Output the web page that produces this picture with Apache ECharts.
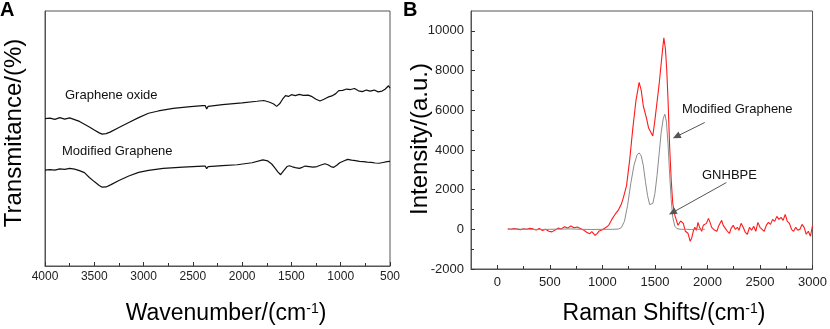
<!DOCTYPE html>
<html><head><meta charset="utf-8">
<script src="https://cdn.jsdelivr.net/npm/echarts@6/dist/echarts.min.js"></script>
<style>html,body{margin:0;padding:0;background:#fff}#c{width:830px;height:329px}</style>
</head><body><div id="c"></div>
<script>
// ---------- Panel A: FTIR (wavenumber, relative transmittance) ----------
const ftirTicks = [4000,3500,3000,2500,2000,1500,1000,500];
const ftirMinorTicks = [3750,3250,2750,2250,1750,1250,750];
const ftirGO = [[4000,57.8],[3950,58.0],[3900,57.5],[3850,58.2],[3800,57.6],[3750,58.1],[3700,57.4],[3650,56.7],[3600,55.6],[3550,54.5],[3500,53.3],[3450,52.2],[3420,51.7],[3380,51.9],[3340,52.5],[3250,54.3],[3150,56.3],[3050,58.2],[2950,59.9],[2850,60.8],[2700,61.8],[2550,62.4],[2400,62.9],[2375,62.9],[2360,61.6],[2345,62.6],[2200,63.3],[2000,64.0],[1850,64.6],[1780,64.9],[1720,64.2],[1680,63.5],[1650,62.6],[1620,63.6],[1590,65.4],[1560,66.8],[1530,66.5],[1500,67.2],[1460,66.8],[1420,67.3],[1380,66.9],[1330,67.0],[1290,66.4],[1250,65.4],[1210,64.7],[1170,65.4],[1130,66.2],[1090,66.7],[1050,67.6],[1020,68.8],[980,68.9],[940,69.4],[900,69.2],[860,69.6],[820,68.7],[780,68.4],[740,69.0],[700,68.6],[660,69.0],[620,68.3],[580,68.6],[550,69.3],[530,70.0],[515,70.7],[500,69.7]];
const ftirMG = [[4000,37.6],[3950,37.8],[3900,37.6],[3850,38.1],[3800,37.9],[3750,38.3],[3700,38.0],[3650,37.4],[3600,36.6],[3550,34.7],[3500,33.1],[3450,31.6],[3420,30.9],[3380,31.0],[3330,31.9],[3250,33.5],[3150,35.3],[3050,36.7],[2950,37.5],[2800,38.3],[2600,38.8],[2400,39.2],[2375,39.2],[2360,38.2],[2345,39.0],[2200,39.4],[2050,39.7],[1900,40.5],[1790,41.6],[1740,41.2],[1700,40.0],[1670,38.6],[1640,37.0],[1610,35.8],[1590,35.9],[1570,37.8],[1545,39.0],[1520,39.3],[1490,38.9],[1460,38.6],[1420,38.3],[1390,38.7],[1360,39.2],[1320,39.0],[1280,38.8],[1240,39.0],[1200,39.6],[1160,40.1],[1130,39.7],[1100,39.0],[1070,38.7],[1040,39.5],[1010,40.5],[970,41.2],[930,41.8],[890,41.5],[850,41.3],[810,41.0],[770,40.9],[730,40.7],[690,40.6],[650,40.4],[610,40.3],[570,40.6],[530,40.9],[500,41.0]];

// ---------- Panel B: Raman (shift, intensity) ----------
const ramanXTicks = [0,500,1000,1500,2000,2500,3000];
const ramanXMinor = [250,750,1250,1750,2250,2750];
const ramanYTicks = [-2000,0,2000,4000,6000,8000,10000];
const ramanYMinor = [-1000,1000,3000,5000,7000,9000];
const ramanMG = [[100,30],[130,0],[160,40],[190,10],[220,-20],[250,30],[280,0],[310,50],[340,20],[370,-30],[400,40],[430,-60],[460,0],[490,-100],[520,-130],[550,-40],[580,60],[610,20],[640,130],[670,60],[700,170],[730,80],[760,120],[790,40],[820,-30],[850,-150],[880,-220],[900,-120],[930,-300],[950,-220],[970,-80],[1000,-20],[1030,80],[1060,200],[1090,500],[1120,750],[1150,950],[1180,1260],[1200,1600],[1230,2200],[1260,3500],[1290,5100],[1320,6500],[1350,7400],[1370,7000],[1390,6200],[1420,5600],[1440,5100],[1460,4900],[1480,4700],[1500,5500],[1520,6400],[1540,7300],[1555,8100],[1570,8900],[1585,9650],[1600,9100],[1612,8100],[1625,6500],[1640,4200],[1655,2500],[1670,1300],[1690,700],[1720,200],[1745,420],[1770,300],[1790,-100],[1815,-200],[1835,-600],[1850,-450],[1865,-100],[1880,100],[1895,-50],[1910,350],[1925,100],[1945,-100],[1960,200],[1975,100],[1990,300],[2010,550],[2025,350],[2040,100],[2055,200],[2070,-50],[2090,-100],[2105,150],[2120,300],[2135,450],[2150,200],[2170,50],[2190,-100],[2210,-200],[2225,50],[2245,200],[2265,0],[2285,100],[2300,-50],[2320,300],[2340,100],[2360,-150],[2380,-250],[2400,100],[2420,-50],[2440,150],[2460,-100],[2480,350],[2500,100],[2520,0],[2540,-100],[2560,200],[2580,350],[2600,250],[2620,500],[2640,400],[2660,650],[2680,500],[2700,600],[2720,450],[2740,750],[2760,400],[2780,300],[2800,0],[2820,-100],[2840,100],[2860,-50],[2880,0],[2900,250],[2920,100],[2940,-250],[2960,-100],[2980,-350],[3000,200]];
const ramanGN = [[100,0],[200,10],[300,0],[400,-10],[500,0],[600,10],[700,20],[800,0],[900,-10],[1000,0],[1100,0],[1150,10],[1180,80],[1210,400],[1240,1200],[1270,2300],[1300,3200],[1330,3750],[1350,3850],[1370,3700],[1390,3200],[1410,2400],[1430,1700],[1450,1250],[1465,1170],[1480,1300],[1500,1800],[1520,2700],[1540,3800],[1560,4900],[1580,5600],[1595,5800],[1610,5400],[1625,4300],[1640,2800],[1655,1500],[1670,600],[1690,150],[1710,30],[1750,0],[1800,0],[1850,-10],[1900,0],[1975,0]];
const arrowMG = [[1974,5380],[1705,4675]];
const arrowGN = [[2180,2355],[1667,842]];

const FONT = '"Liberation Sans", Arial, sans-serif';
const AX = '#555';
const LBL = '#222';
const plain = v => String(v);

function xAxisDef(grid, min, max, inverse, ticks, len, labels, showLine) {
  return {
    type: 'value', gridIndex: grid, min: min, max: max, inverse: inverse, position: 'bottom',
    axisLine: {show: showLine, onZero: false, lineStyle: {color: AX, width: 1}},
    axisTick: {show: true, inside: true, length: len, customValues: ticks, lineStyle: {color: '#333'}},
    axisLabel: labels ? {show: true, customValues: labels, formatter: plain, color: LBL, fontSize: grid === 0 ? 12 : 13, fontFamily: FONT, margin: grid === 0 ? 5 : 7} : {show: false},
    splitLine: {show: false}
  };
}

const chart = echarts.init(document.getElementById('c'), null, {renderer: 'canvas'});
chart.setOption({
  animation: false,
  backgroundColor: '#fff',
  grid: [
    {left: 45, top: 11, width: 345, height: 255, show: true, borderColor: AX, borderWidth: 1},
    {left: 471, top: 11, width: 342, height: 258, show: true, borderColor: AX, borderWidth: 1}
  ],
  xAxis: [
    xAxisDef(0, 500, 4000, true, ftirTicks, 4, ftirTicks, true),
    xAxisDef(0, 500, 4000, true, ftirMinorTicks, 3, null, false),
    xAxisDef(1, -250, 3000, false, ramanXTicks, 4, ramanXTicks, true),
    xAxisDef(1, -250, 3000, false, ramanXMinor, 3, null, false)
  ],
  yAxis: [
    {type: 'value', gridIndex: 0, min: 0, max: 100, axisLine: {show: true, onZero: false, lineStyle: {color: AX}}, axisTick: {show: false}, axisLabel: {show: false}, splitLine: {show: false}},
    {type: 'value', gridIndex: 1, min: -2000, max: 11000, position: 'left',
      axisLine: {show: true, onZero: false, lineStyle: {color: AX}},
      axisTick: {show: true, inside: true, length: 4, customValues: ramanYTicks, lineStyle: {color: '#333'}},
      axisLabel: {show: true, customValues: ramanYTicks, formatter: plain, color: LBL, fontSize: 13, fontFamily: FONT, margin: 7},
      splitLine: {show: false}},
    {type: 'value', gridIndex: 1, min: -2000, max: 11000, position: 'left',
      axisLine: {show: false, onZero: false},
      axisTick: {show: true, inside: true, length: 3, customValues: ramanYMinor, lineStyle: {color: '#333'}},
      axisLabel: {show: false}, splitLine: {show: false}}
  ],
  series: [
    {type: 'line', xAxisIndex: 0, yAxisIndex: 0, data: ftirGO, showSymbol: false, symbol: 'none', lineStyle: {color: '#111', width: 1.2}},
    {type: 'line', xAxisIndex: 0, yAxisIndex: 0, data: ftirMG, showSymbol: false, symbol: 'none', lineStyle: {color: '#111', width: 1.2}},
    {type: 'line', xAxisIndex: 2, yAxisIndex: 1, data: ramanMG, showSymbol: false, symbol: 'none', lineStyle: {color: '#ff1a1a', width: 1.1}, z: 2,
      markLine: {silent: true, symbol: ['none', 'triangle'], symbolSize: [7, 8], label: {show: false},
        lineStyle: {color: '#555', width: 1, type: 'solid'},
        data: [
          [{coord: arrowMG[0], symbol: 'none'}, {coord: arrowMG[1], itemStyle: {color: '#000'}}],
          [{coord: arrowGN[0], symbol: 'none'}, {coord: arrowGN[1], itemStyle: {color: '#000'}}]
        ]}},
    {type: 'line', xAxisIndex: 2, yAxisIndex: 1, data: ramanGN, showSymbol: false, symbol: 'none', lineStyle: {color: '#8c8c8c', width: 1}, z: 3}
  ],
  graphic: [
    {type: 'text', left: 0, top: 0, style: {text: 'A', font: 'bold 20px ' + FONT, fill: '#000'}},
    {type: 'text', left: 403, top: 0, style: {text: 'B', font: 'bold 20px ' + FONT, fill: '#000'}},
    {type: 'text', x: 14, y: 133, rotation: Math.PI / 2, style: {text: 'Transmitance/(%)', font: '24px ' + FONT, fill: '#000', align: 'center', verticalAlign: 'middle'}},
    {type: 'text', x: 420, y: 139, rotation: Math.PI / 2, style: {text: 'Intensity/(a.u.)', font: '24px ' + FONT, fill: '#000', align: 'center', verticalAlign: 'middle'}},
    {type: 'text', x: 226, y: 314, style: {text: '{a|Wavenumber/(cm}{s|-1}{a|)}', align: 'center', verticalAlign: 'middle',
      rich: {a: {fontSize: 23, fontFamily: FONT, fill: '#000'}, s: {fontSize: 14, fontFamily: FONT, fill: '#000', padding: [0, 0, 10, 0]}}}},
    {type: 'text', x: 664, y: 314, style: {text: '{a|Raman Shifts/(cm}{s|-1}{a|)}', align: 'center', verticalAlign: 'middle',
      rich: {a: {fontSize: 23, fontFamily: FONT, fill: '#000'}, s: {fontSize: 14, fontFamily: FONT, fill: '#000', padding: [0, 0, 10, 0]}}}},
    {type: 'text', x: 65, y: 95, style: {text: 'Graphene oxide', font: '13px ' + FONT, fill: '#111', verticalAlign: 'middle'}},
    {type: 'text', x: 62, y: 151, style: {text: 'Modified Graphene', font: '13px ' + FONT, fill: '#111', verticalAlign: 'middle'}},
    {type: 'text', x: 682, y: 109, style: {text: 'Modified Graphene', font: '13px ' + FONT, fill: '#111', verticalAlign: 'middle'}},
    {type: 'text', x: 702, y: 175, style: {text: 'GNHBPE', font: '13px ' + FONT, fill: '#111', verticalAlign: 'middle'}}
  ]
});
</script></body></html>
